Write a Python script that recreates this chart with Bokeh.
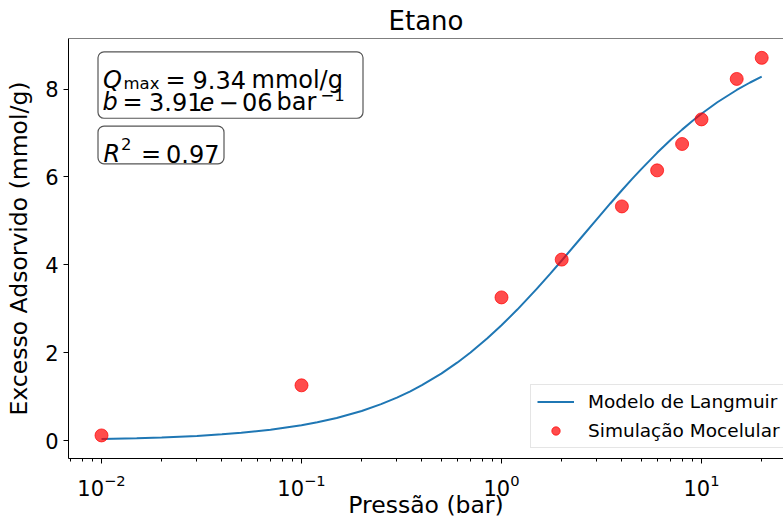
from bokeh.plotting import figure
from bokeh.models import (Range1d, FixedTicker, Span, BoxAnnotation, Label,
                          LogTickFormatter)
from bokeh.embed import file_html
from bokeh.resources import INLINE

# ---------------- data ----------------
title = "Etano"
x_label = "Pressão (bar)"
y_label = "Excesso Adsorvido (mmol/g)"

# Molecular simulation points
sim_pressure = [0.01, 0.1, 1, 2, 4, 6, 8, 10, 15, 20]
sim_excess = [0.12, 1.26, 3.26, 4.12, 5.33, 6.15, 6.75, 7.31, 8.23, 8.71]

# Langmuir model curve
model_pressure = [0.01, 0.015, 0.02, 0.03, 0.04, 0.05, 0.07, 0.1, 0.12, 0.15,
                  0.2, 0.25, 0.3, 0.35, 0.4, 0.5, 0.6, 0.7, 0.85, 1, 1.2, 1.5,
                  1.75, 2, 2.5, 3, 3.5, 4, 4.5, 5, 6, 7, 8, 9, 10, 12, 15,
                  17.5, 20]
model_excess = [0.036, 0.055, 0.073, 0.108, 0.144, 0.179, 0.249, 0.352, 0.419,
                0.518, 0.677, 0.832, 0.981, 1.124, 1.263, 1.527, 1.775, 2.007,
                2.330, 2.625, 2.983, 3.453, 3.795, 4.099, 4.617, 5.042, 5.397,
                5.697, 5.955, 6.179, 6.549, 6.841, 7.077, 7.273, 7.438, 7.699,
                7.979, 8.149, 8.281]

legend_line = "Modelo de Langmuir"
legend_points = "Simulação Mocelular"

y_ticks = [0, 2, 4, 6, 8]
x_major_ticks = [0.01, 0.1, 1, 10]

# ---------------- layout constants ----------------
W, H = 783, 521
FL, FT, FW, FH = 68, 37, 715, 424          # frame left/top/width/height (px)
LOG_L = -2.165
PX_PER_DEC = 200.0
Y_TOP, Y_BOT = 9.15, -0.405
FONT = "DejaVu Sans"


def xd(px):
    return 10 ** (LOG_L + (px - FL) / PX_PER_DEC)


def yd(py):
    return Y_TOP - (py - FT) * (Y_TOP - Y_BOT) / FH


p = figure(width=W, height=H, x_axis_type="log",
           x_range=Range1d(10 ** LOG_L, 10 ** (LOG_L + FW / PX_PER_DEC)),
           y_range=Range1d(Y_BOT, Y_TOP),
           output_backend="svg", toolbar_location=None,
           min_border_left=FL, min_border_right=0,
           min_border_top=FT, min_border_bottom=H - FT - FH)

p.background_fill_color = "white"
p.border_fill_color = "white"
p.outline_line_color = None
p.xgrid.visible = False
p.ygrid.visible = False

# title
p.title.text = title
p.title.text_font = FONT
p.title.text_font_size = "26px"
p.title.text_font_style = "normal"
p.title.text_color = "black"
p.title.align = "center"
p.title.offset = 5
p.title.standoff = 6

# top spine
p.add_layout(Span(location=Y_TOP, dimension="width", line_color="black",
                  line_width=1))

# x axis
minor = []
for dec in [0.001, 0.01, 0.1, 1, 10]:
    for k in range(2, 10):
        minor.append(dec * k)
xa = p.xaxis[0]
xa.ticker = FixedTicker(ticks=x_major_ticks, minor_ticks=minor)
xa.formatter = LogTickFormatter()
xa.axis_label = x_label
xa.axis_label_text_font = FONT
xa.axis_label_text_font_size = "23.5px"
xa.axis_label_text_font_style = "normal"
xa.axis_label_text_line_height = 0.4
xa.axis_label_standoff = -8
xa.major_label_text_font = FONT
xa.major_label_text_font_size = "21px"
xa.major_label_standoff = 10
xa.major_tick_in = 0
xa.major_tick_out = 5
xa.minor_tick_in = 0
xa.minor_tick_out = 3
xa.axis_line_color = "black"
xa.major_tick_line_color = "black"
xa.minor_tick_line_color = "black"
xa.major_label_text_color = "black"
xa.axis_label_text_color = "black"

# y axis
ya = p.yaxis[0]
ya.ticker = FixedTicker(ticks=y_ticks, minor_ticks=[])
ya.axis_label = y_label
ya.axis_label_text_font = FONT
ya.axis_label_text_font_size = "23.5px"
ya.axis_label_text_font_style = "normal"
ya.axis_label_text_line_height = 1.0
ya.axis_label_standoff = 9
ya.major_label_text_font = FONT
ya.major_label_text_font_size = "21px"
ya.major_label_standoff = 5
ya.major_tick_in = 0
ya.major_tick_out = 5
ya.minor_tick_line_color = None
ya.axis_line_color = "black"
ya.major_tick_line_color = "black"
ya.major_label_text_color = "black"
ya.axis_label_text_color = "black"

# data
p.line(model_pressure, model_excess, line_color="#1f77b4", line_width=2,
       legend_label=legend_line)
p.scatter(sim_pressure, sim_excess, size=13, fill_color="red",
          fill_alpha=0.7, line_color="red", line_alpha=0.7,
          legend_label=legend_points)

# legend
lg = p.legend[0]
lg.location = (530 - FL, 10)
lg.label_text_font = FONT
lg.label_text_font_size = "18.5px"
lg.label_text_color = "black"
lg.glyph_width = 37
lg.glyph_height = 21
lg.label_height = 21
lg.label_standoff = 14
lg.spacing = 8
lg.padding = 6
lg.margin = 0
lg.border_line_color = "#cccccc"
lg.border_line_width = 1
lg.background_fill_color = "white"
lg.background_fill_alpha = 0.8

# annotation boxes
for (l, r, t, b) in [(97.5, 362.5, 50.5, 117.5), (97.5, 223.5, 125.5, 163.5)]:
    p.add_layout(BoxAnnotation(left=xd(l), right=xd(r), top=yd(t), bottom=yd(b),
                               fill_color="white", fill_alpha=0.8,
                               line_color="#555555", line_alpha=1.0,
                               line_width=1.2, border_radius=6,
                               level="annotation"))

pieces = [
    ("Q", 102.5, 79, 24, "italic"),
    ("max", 123, 82, 16.5, "normal"),
    ("=", 165, 79, 24, "normal"),
    ("9.34", 192, 79, 24, "normal"),
    ("mmol/g", 251, 79, 24, "normal"),
    ("b", 102, 101, 24, "italic"),
    ("=", 122, 101, 24, "normal"),
    ("3.91", 148.5, 101, 24, "normal"),
    ("e", 199, 101, 24, "italic"),
    ("\u2212", 218, 101, 24, "normal"),
    ("06", 241.5, 101, 24, "normal"),
    ("bar", 276, 101, 24, "normal"),
    ("\u22121", 320, 94.5, 16.5, "normal"),
    ("R", 103, 154, 24, "italic"),
    ("2", 120.5, 143, 16.5, "normal"),
    ("=", 140.5, 154, 24, "normal"),
    ("0.97", 165.5, 154, 24, "normal"),
]
for txt, px, py, fs, style in pieces:
    p.add_layout(Label(x=xd(px), y=yd(py), text=txt, text_font=FONT,
                       text_font_size=f"{fs}px", text_font_style=style,
                       text_color="black", text_align="left",
                       text_baseline="alphabetic"))

open("out.html", "w").write(file_html(p, INLINE))
